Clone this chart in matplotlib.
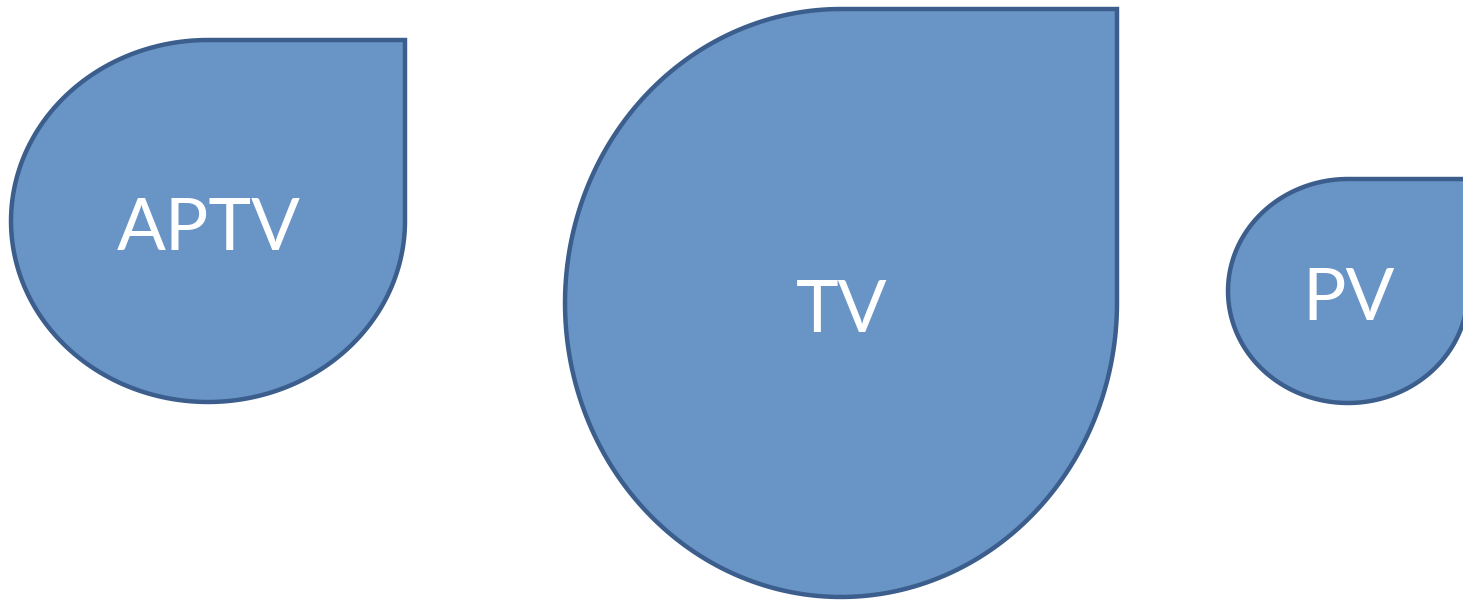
import numpy as np
import matplotlib.pyplot as plt
from matplotlib.path import Path
import matplotlib.patches as mpatches

labels = ["APTV", "TV", "PV"]
# half width / half height of each drop (px)
half_w = [197, 276, 120]
half_h = [181, 294, 112]

# layout
centers_x = [208, 841, 1348]
centers_y = [221, 303, 291]
fill_col = "#6994C6"
edge_col = "#3B5E8C"


def drop_path(cx, cy, rx, ry):
    # ellipse with the top-right quarter squared off
    t = np.linspace(np.pi / 2, 2 * np.pi, 200)
    xs = cx + rx * np.cos(t)
    ys = cy - ry * np.sin(t)
    pts = list(zip(xs, ys))
    pts.append((cx + rx, cy - ry))
    pts.append(pts[0])
    codes = [Path.MOVETO] + [Path.LINETO] * (len(pts) - 2) + [Path.CLOSEPOLY]
    return Path(pts, codes)


fig = plt.figure(figsize=(14.63, 6), dpi=100)
ax = fig.add_axes([0, 0, 1, 1])
ax.set_xlim(0, 1463)
ax.set_ylim(600, 0)
ax.axis("off")

for lab, cx, cy, rx, ry in zip(labels, centers_x, centers_y, half_w, half_h):
    patch = mpatches.PathPatch(drop_path(cx, cy, rx, ry), facecolor=fill_col,
                               edgecolor=edge_col, lw=3.2, joinstyle="miter")
    ax.add_patch(patch)
    ax.text(cx + 1, cy + 29, lab, color="white", fontsize=52, family="Lato",
            ha="center", va="baseline")

fig.savefig("out.png", dpi=100)
